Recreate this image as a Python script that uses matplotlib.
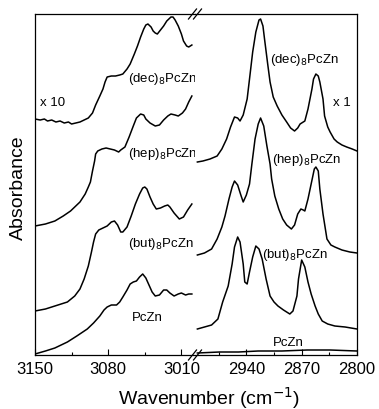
import numpy as np
import matplotlib
matplotlib.use("Agg")
import matplotlib.pyplot as plt
from matplotlib.lines import Line2D

plt.rcParams['font.family'] = ['Liberation Sans', 'DejaVu Sans']

# ---- left window (3150-3000 cm-1, shown x 10) ----
dec_l_w = [3150, 3145, 3141, 3138, 3134, 3130, 3126, 3122, 3118, 3115, 3111, 3107, 3103, 3099,
           3095, 3092, 3088, 3085, 3083, 3081, 3077, 3073, 3069, 3066, 3062, 3059, 3055, 3052,
           3049, 3046, 3044, 3042, 3039, 3037, 3035, 3033, 3030, 3027, 3024, 3022, 3020, 3018,
           3016, 3013, 3010, 3008, 3005, 3003, 3000]
dec_l_a = [236, 235, 236, 234, 235, 233, 234, 232, 233, 231, 232, 233, 235, 237,
           242, 250, 259, 266, 273, 278, 279, 279, 280, 281, 286, 291, 301, 309,
           318, 326, 330, 331, 328, 324, 322, 321, 325, 329, 334, 336, 338, 338,
           335, 329, 321, 314, 309, 308, 310]

hep_l_w = [3150, 3140, 3131, 3123, 3116, 3112, 3107, 3102, 3099, 3097, 3095, 3093, 3092, 3090,
           3086, 3082, 3078, 3074, 3070, 3068, 3064, 3060, 3056, 3053, 3049, 3046, 3044, 3040,
           3035, 3031, 3027, 3023, 3020, 3016, 3013, 3009, 3006, 3003, 3000]
hep_l_a = [129, 131, 134, 139, 144, 148, 153, 161, 168, 173, 184, 194, 201, 204,
           206, 207, 206, 205, 203, 205, 208, 218, 229, 237, 241, 240, 236, 232,
           229, 230, 235, 239, 241, 240, 239, 242, 246, 253, 259]

but_l_w = [3150, 3140, 3131, 3119, 3112, 3107, 3103, 3099, 3096, 3094, 3092, 3089, 3085, 3081,
           3077, 3074, 3071, 3068, 3066, 3062, 3058, 3054, 3050, 3047, 3045, 3043, 3040, 3037,
           3034, 3030, 3026, 3023, 3021, 3017, 3012, 3008, 3004, 3000]
but_l_a = [44, 46, 49, 53, 59, 66, 76, 89, 103, 113, 121, 125, 127, 129,
           133, 134, 130, 123, 123, 128, 139, 151, 161, 167, 168, 166, 158, 151,
           146, 147, 149, 150, 148, 142, 136, 138, 145, 151]

pc_l_w = [3150, 3140, 3131, 3119, 3110, 3100, 3094, 3088, 3084, 3081, 3077, 3072, 3069, 3066,
          3062, 3059, 3056, 3053, 3050, 3047, 3044, 3041, 3038, 3035, 3031, 3027, 3024, 3021,
          3017, 3013, 3010, 3006, 3003, 3000]
pc_l_a = [1, 4, 7, 13, 19, 26, 32, 39, 45, 48, 50, 50, 53, 58,
          65, 71, 73, 74, 78, 81, 77, 70, 63, 59, 60, 65, 65, 62,
          59, 61, 62, 60, 61, 61]

# ---- right window (3000-2800 cm-1, shown x 1) ----
dec_r_w = [3002, 2995, 2986, 2977, 2971, 2965, 2960, 2955, 2951, 2948, 2944, 2939, 2936, 2932,
           2928, 2924, 2922, 2919, 2917, 2913, 2910, 2906, 2901, 2895, 2889, 2884, 2879, 2875,
           2872, 2868, 2866, 2862, 2857, 2855, 2852, 2849, 2847, 2843, 2841, 2837, 2834, 2829,
           2825, 2819, 2813, 2806, 2800]
dec_r_a = [193, 194, 196, 199, 206, 216, 228, 238, 237, 234, 240, 256, 276, 303,
           323, 335, 336, 329, 316, 291, 273, 258, 249, 240, 233, 227, 224, 227,
           231, 233, 234, 246, 266, 276, 281, 279, 273, 256, 239, 228, 223, 216,
           213, 210, 208, 206, 204]

hep_r_w = [3002, 2993, 2984, 2977, 2971, 2967, 2962, 2958, 2955, 2951, 2947, 2944, 2940, 2936,
           2933, 2929, 2925, 2922, 2918, 2914, 2910, 2908, 2904, 2899, 2894, 2889, 2883, 2879,
           2875, 2871, 2868, 2866, 2862, 2858, 2854, 2852, 2849, 2847, 2843, 2838, 2833, 2828,
           2819, 2809, 2800]
hep_r_a = [100, 102, 106, 116, 128, 139, 156, 168, 174, 170, 160, 153, 160, 171,
           191, 216, 231, 237, 229, 209, 191, 176, 159, 146, 136, 130, 126, 130,
           141, 146, 145, 144, 156, 171, 186, 188, 184, 166, 141, 116, 110, 108,
           105, 103, 102]

but_r_w = [3002, 2993, 2984, 2976, 2970, 2963, 2958, 2955, 2951, 2948, 2944, 2942, 2939, 2936,
           2932, 2928, 2924, 2920, 2915, 2910, 2905, 2900, 2893, 2885, 2881, 2876, 2874, 2870,
           2866, 2862, 2858, 2853, 2849, 2844, 2837, 2828, 2815, 2800]
but_r_a = [26, 28, 30, 36, 53, 69, 91, 108, 118, 113, 91, 73, 71, 83,
           98, 109, 106, 96, 76, 59, 53, 49, 45, 41, 44, 59, 76, 95,
           88, 73, 61, 49, 41, 34, 31, 29, 28, 26]

pc_r_w = [3002, 2974, 2950, 2925, 2895, 2863, 2834, 2800]
pc_r_a = [2, 3, 3, 4, 4, 5, 5, 4]

fig = plt.figure(figsize=(3.79, 4.10), dpi=100)
axL = fig.add_axes([0.0923, 0.1317, 0.4222, 0.8317])
axR = fig.add_axes([0.5145, 0.1317, 0.4274, 0.8317], sharey=axL)

lw = 1.1
for w, a in [(dec_l_w, dec_l_a), (hep_l_w, hep_l_a), (but_l_w, but_l_a), (pc_l_w, pc_l_a)]:
    axL.plot(w, a, color='black', lw=lw)
for w, a in [(dec_r_w, dec_r_a), (hep_r_w, hep_r_a), (but_r_w, but_r_a), (pc_r_w, pc_r_a)]:
    axR.plot(w, a, color='black', lw=lw)

axL.set_xlim(3150, 2997)
axR.set_xlim(3005, 2800)
axL.set_ylim(0, 341)

axL.set_xticks([3150, 3080, 3010])
axL.set_xticks([3115, 3045], minor=True)
axR.set_xticks([2940, 2870, 2800])
axR.set_xticks([2975, 2905, 2835], minor=True)

for ax in (axL, axR):
    ax.tick_params(axis='x', which='major', direction='in', length=4, width=0.8,
                   labelsize=12, pad=4)
    ax.tick_params(axis='x', which='minor', direction='in', length=2.5, width=0.8)
    ax.tick_params(axis='y', left=False, labelleft=False)
    for s in ax.spines.values():
        s.set_linewidth(0.9)
axL.spines['right'].set_visible(False)
axR.spines['left'].set_visible(False)

fs = 9.5
axL.text(3145, 250, 'x 10', fontsize=fs, va='baseline')
axL.text(3061, 274, '(dec)$_8$PcZn', fontsize=fs, va='baseline')
axL.text(3061, 199, '(hep)$_8$PcZn', fontsize=fs, va='baseline')
axL.text(3061, 109, '(but)$_8$PcZn', fontsize=fs, va='baseline')
axL.text(3057, 35, 'PcZn', fontsize=fs, va='baseline')
axR.text(2910, 293, '(dec)$_8$PcZn', fontsize=fs, va='baseline')
axR.text(2830, 250, 'x 1', fontsize=fs, va='baseline')
axR.text(2908, 193, '(hep)$_8$PcZn', fontsize=fs, va='baseline')
axR.text(2920, 98, '(but)$_8$PcZn', fontsize=fs, va='baseline')
axR.text(2906, 10, 'PcZn', fontsize=fs, va='baseline')

# axis break marks
W, H = 379.0, 410.0
for yc in (15, 356):
    for dx in (-2.5, 2.5):
        xc = 195 + dx
        fig.add_artist(Line2D([(xc - 4) / W, (xc + 4) / W],
                              [1 - (yc + 5) / H, 1 - (yc - 5) / H],
                              color='black', lw=0.9, transform=fig.transFigure))

fig.text(209 / W, 1 - 398 / H, 'Wavenumber (cm$^{-1}$)', fontsize=14,
         ha='center', va='center')
fig.text(18 / W, 1 - 188 / H, 'Absorbance', fontsize=14, rotation=90,
         ha='center', va='center')

fig.savefig('out.png', dpi=100)
